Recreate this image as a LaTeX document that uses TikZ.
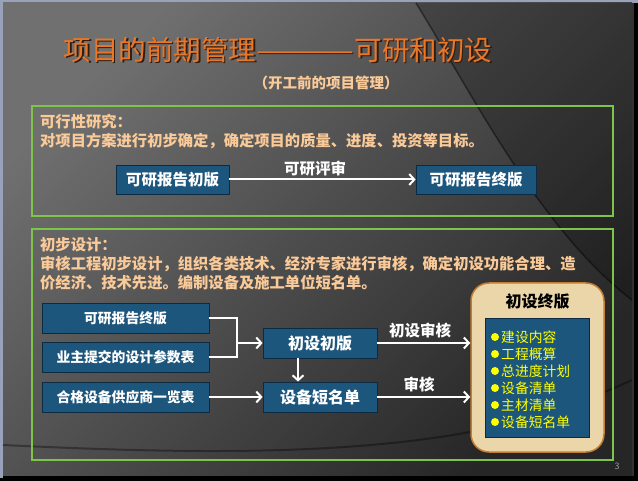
\documentclass[tikz,border=0pt]{standalone}
\usepackage{fontspec}
\usepackage{graphicx}
\setmainfont{Noto Sans CJK SC}
\usetikzlibrary{arrows.meta,calc}
\definecolor{peach}{RGB}{250,202,152}
\definecolor{boxblue}{RGB}{28,86,125}
\definecolor{boxedge}{RGB}{12,42,66}
\definecolor{grn}{RGB}{126,196,72}
\definecolor{parch}{RGB}{234,214,168}
\definecolor{parchedge}{RGB}{196,124,48}
\definecolor{ttl}{RGB}{234,118,40}
\definecolor{ttlshadow}{RGB}{50,28,12}
\definecolor{frameblue}{RGB}{152,162,186}
\definecolor{ylw}{RGB}{255,255,0}
\definecolor{bgtl}{RGB}{112,112,112}
\definecolor{bgbr}{RGB}{38,38,38}
\newcommand{\ttltext}{项目的前期管理\scalebox{1.45}[1]{———}可研和初设}
\begin{document}
\begin{tikzpicture}[x=1pt,y=-1pt,
  bluebox/.style={draw=boxedge,line width=0.8pt,fill=boxblue,text=white,inner sep=0pt},
  bigbox/.style={bluebox,font=\bfseries\fontsize{15.5}{18}\selectfont,minimum height=29pt},
  smallbox/.style={bluebox,font=\bfseries\fontsize{13.8}{16}\selectfont,minimum width=167pt,minimum height=30pt},
  midbox/.style={bluebox,font=\bfseries\fontsize{16}{18}\selectfont,minimum width=114pt,minimum height=30pt},
  greenframe/.style={draw=grn,line width=2pt},
  bodytext/.style={anchor=west,text=peach,inner sep=0pt,font=\bfseries\fontsize{15.3}{18}\selectfont},
  arrlabel/.style={text=white,inner sep=0pt,font=\bfseries\fontsize{15.5}{18}\selectfont},
  arr/.style={draw=white,line width=2pt,-{Straight Barb[length=5pt,width=11pt,line width=2pt]}},
  wline/.style={draw=white,line width=2pt},
  item/.style={anchor=west,text=ylw,inner sep=0pt,font=\fontsize{13.8}{16}\selectfont},
  titlefont/.style={inner sep=0pt,font=\fontsize{27.5}{30}\selectfont},
]
\useasboundingbox (0,0) rectangle (638,481);
% frame and slide background
\fill[black] (0,0) rectangle (638,481);
\fill[frameblue] (0,0) rectangle (638,3);
\fill[frameblue] (0,0) rectangle (3,478);
\fill[black!80] (625,3) rectangle (634,476);
\shade[shading=axis,top color=bgtl,bottom color=bgbr,shading angle=45] (3,3) rectangle (632,475);
\fill[black,opacity=0.22] (416,3) .. controls (470,90) and (540,230) .. (632,300) -- (632,3) -- cycle;
\draw[black,opacity=0.45,line width=1.5pt] (416,3) .. controls (470,90) and (540,230) .. (632,300);
\draw[black,opacity=0.35,line width=2pt] (3,445) .. controls (150,452) and (330,458) .. (470,432) .. controls (540,418) and (600,395) .. (632,380);
% title
\node[titlefont,text=ttlshadow] (titles) at (279.5,51.5) {\ttltext};
\node[titlefont,text=ttl] (title) at (278,50) {\ttltext};
\node[text=peach,font=\bfseries\fontsize{14.5}{16}\selectfont,inner sep=0pt] (sub) at (326,83) {（开工前的项目管理）};
% box 1
\draw[greenframe] (32,106) rectangle (613,216);
\node[bodytext] (t1a) at (40,122) {可行性研究：};
\node[bodytext] (t1b) at (40,141) {对项目方案进行初步确定，确定项目的质量、进度、投资等目标。};
\node[bigbox,minimum width=113pt] (kb1) at (172.5,179.5) {可研报告初版};
\node[bigbox,minimum width=120pt] (kb2) at (476,179.5) {可研报告终版};
\draw[arr] (kb1.east) -- (kb2.west);
\node[arrlabel] (l1) at (315,169) {可研评审};
% box 2
\draw[greenframe] (32,229) rectangle (613,460);
\node[bodytext] (t2a) at (40,245) {初步设计：};
\node[bodytext] (t2b) at (40,264) {审核工程初步设计，组织各类技术、经济专家进行审核，确定初设功能合理、造};
\node[bodytext] (t2c) at (40,283) {价经济、技术先进。编制设备及施工单位短名单。};
\node[smallbox] (k2) at (125.5,318) {可研报告终版};
\node[smallbox] (yz) at (125.5,357) {业主提交的设计参数表};
\node[smallbox] (hg) at (125.5,397) {合格设备供应商一览表};
\node[midbox] (csc) at (320,343) {初设初版};
\node[midbox] (sbd) at (320,397) {设备短名单};
% final version box
\node[draw=parchedge,line width=1.5pt,fill=parch,rounded corners=18pt,minimum width=133pt,minimum height=169pt,inner sep=0pt] (zb) at (537.5,367.5) {};
\node[font=\bfseries\fontsize{16}{18}\selectfont,text=black,inner sep=0pt] (zbt) at (537.5,301) {初设终版};
\node[bluebox,minimum width=104pt,minimum height=119pt] (inner) at (537,377.5) {};
\foreach \y/\t [count=\i] in {337/建设内容,354/工程概算,371/总进度计划,388/设备清单,405/主材清单,422/设备短名单}{
  \fill[ylw] (495,\y) circle (4pt);
  \node[item] (it\i) at (501,\y) {\t};
}
% connectors
\coordinate (jx) at (237,343);
\coordinate (dx) at (298,370);
\draw[wline] (k2.east) -- (k2.east -| jx) |- (yz.east);
\draw[arr] (jx) -- (csc.west);
\draw[arr] (csc.south -| dx) -- (sbd.north -| dx);
\draw[arr] (hg.east) -- (sbd.west);
\draw[arr] (csc.east) -- (csc.east -| zb.west);
\draw[arr] (sbd.east) -- (sbd.east -| zb.west);
\node[arrlabel] (l2) at (420,331) {初设审核};
\node[arrlabel] (l3) at (419,385) {审核};
\node[text=black!40,font=\fontsize{9}{10}\selectfont,inner sep=0pt] (pg) at (617,466) {3};
\end{tikzpicture}
\end{document}
